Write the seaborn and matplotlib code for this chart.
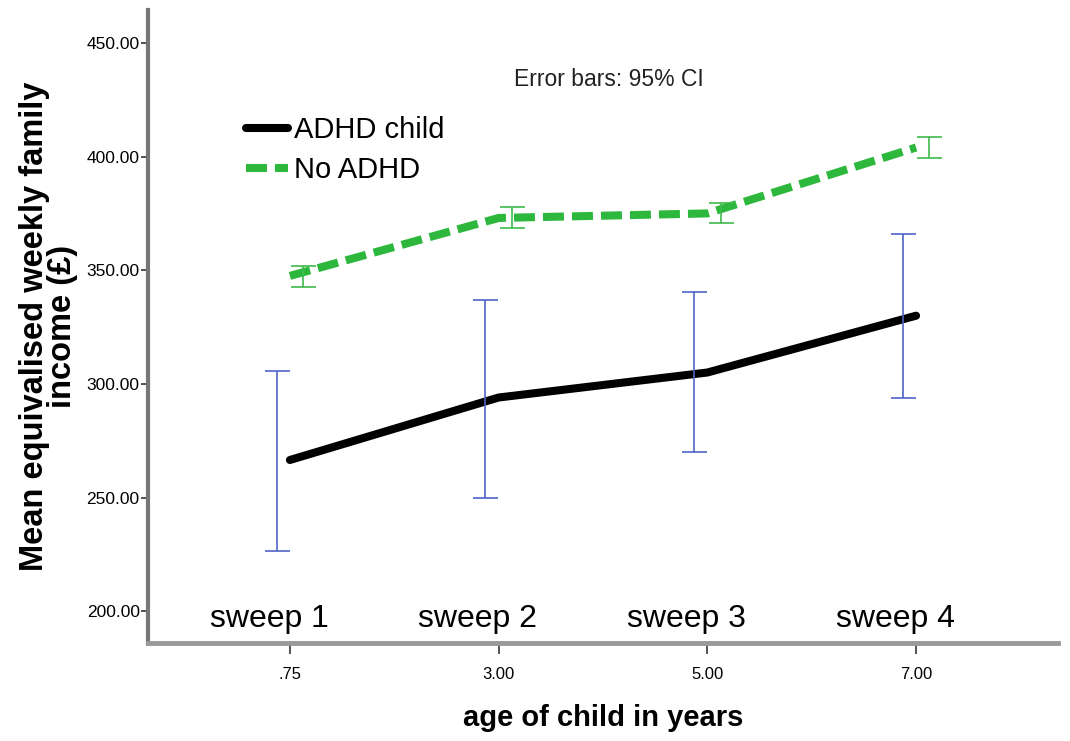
import numpy as np
import pandas as pd
import seaborn as sns
import matplotlib.pyplot as plt
from matplotlib.lines import Line2D

# values
ages = [".75", "3.00", "5.00", "7.00"]
sweeps = ["sweep 1", "sweep 2", "sweep 3", "sweep 4"]
adhd_mean = [266.5, 294.0, 305.0, 330.0]
adhd_lo = [226.5, 250.0, 270.0, 294.0]
adhd_hi = [305.5, 337.0, 340.5, 366.0]
no_adhd_mean = [347.5, 373.0, 375.0, 404.0]
no_adhd_lo = [342.5, 368.5, 371.0, 399.5]
no_adhd_hi = [352.0, 378.0, 379.5, 408.5]

sns.set_theme(style="white")
plt.rcParams['font.family'] = ['Liberation Sans', 'DejaVu Sans']
plt.rcParams['text.color'] = 'black'
plt.rcParams['axes.labelcolor'] = 'black'
plt.rcParams['xtick.color'] = 'black'
plt.rcParams['ytick.color'] = 'black'

pos = np.arange(len(ages))
df = pd.DataFrame({
    "pos": np.concatenate([pos, pos]),
    "income": adhd_mean + no_adhd_mean,
    "group": ["ADHD child"] * 4 + ["No ADHD"] * 4,
})

fig = plt.figure(figsize=(10.7, 7.41), dpi=100)
ax = fig.add_axes([0.1383, 0.1323, 0.8505, 0.8542])

green_line = "#2db83d"
sns.lineplot(data=df, x="pos", y="income", hue="group", style="group",
             palette={"ADHD child": "black", "No ADHD": green_line},
             dashes={"ADHD child": "", "No ADHD": (2.6, 1.0)},
             linewidth=5.8, ax=ax, legend=False)

blue = "#5064c8"
green = "#3dbb4c"
am = np.array(adhd_mean)
nm = np.array(no_adhd_mean)
ax.errorbar(pos - 0.063, am, yerr=[am - np.array(adhd_lo), np.array(adhd_hi) - am],
            fmt="none", ecolor=blue, elinewidth=1.2, capsize=9, capthick=1.2)
ax.errorbar(pos + 0.063, nm, yerr=[nm - np.array(no_adhd_lo), np.array(no_adhd_hi) - nm],
            fmt="none", ecolor=green, elinewidth=1.2, capsize=9, capthick=1.2)

ax.set_xlim(-0.68, 3.68)
ax.set_ylim(186, 464.5)
ax.set_xticks(pos)
ax.set_xticklabels(ages)
yt = [200, 250, 300, 350, 400, 450]
ax.set_yticks(yt)
ax.set_yticklabels([f"{v:.2f}" for v in yt])
ax.tick_params(axis="x", direction="out", length=8, width=1.2, color="#333333",
               labelsize=12, pad=9, bottom=True)
ax.tick_params(axis="y", direction="out", length=5, width=1.2, color="#333333",
               labelsize=12.5, pad=1, left=True)

for s in ["top", "right"]:
    ax.spines[s].set_visible(False)
ax.spines["left"].set_color("#777777")
ax.spines["left"].set_linewidth(3)
ax.spines["bottom"].set_color("#999999")
ax.spines["bottom"].set_linewidth(3.5)

ax.set_xlabel("age of child in years", fontsize=21, fontweight="bold", labelpad=16)
ax.set_ylabel("Mean equivalised weekly family\nincome (£)", fontsize=23.5,
              fontweight="bold", labelpad=6, linespacing=0.9)

for i, s in enumerate(sweeps):
    ax.text(pos[i] - 0.1, 190, s, fontsize=23, ha="center", va="bottom")

ax.text(1.53, 434, "Error bars: 95% CI", fontsize=16.5, ha="center", va="center",
        color="#222222")

handles = [Line2D([], [], color="black", lw=5.8),
           Line2D([], [], color=green_line, lw=5.8, dashes=(2.6, 1.0))]
ax.legend(handles, ["ADHD child", "No ADHD"], loc="upper left",
          bbox_to_anchor=(0.095, 0.851), frameon=False, fontsize=21,
          handlelength=1.45, handletextpad=0.2, labelspacing=0.42,
          borderaxespad=0.0)

fig.savefig("out.png", dpi=100)
